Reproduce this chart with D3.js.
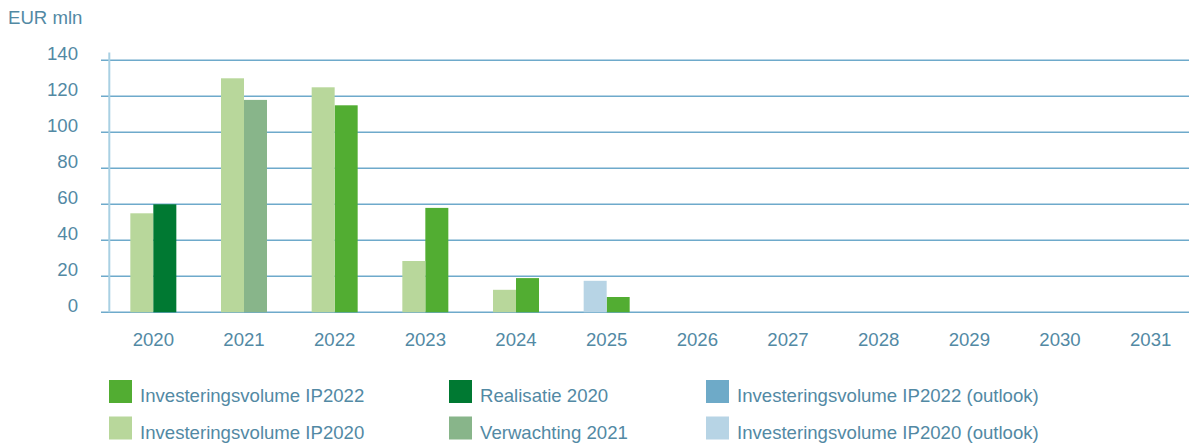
<!DOCTYPE html>
<html>
<head>
<meta charset="utf-8">
<script src="https://cdn.jsdelivr.net/npm/d3@7"></script>
<style>
  html, body { margin: 0; padding: 0; background: #fff; }
  svg { display: block; }
  text { font-family: "Liberation Sans", Arial, Helvetica, sans-serif; fill: #5289a4; }
</style>
</head>
<body>
<svg id="chart" width="1189" height="443"></svg>
<script>
// Categories
const years = ["2020","2021","2022","2023","2024","2025","2026","2027","2028","2029","2030","2031"];

// Series values (EUR mln); null = no bar for that year
const ip2020        = [55, 130, 125, 28.5, 12.5, null, null, null, null, null, null, null];
const ip2020Outlook = [null, null, null, null, null, 17.5, null, null, null, null, null, null];
const realisatie2020  = [60, null, null, null, null, null, null, null, null, null, null, null];
const verwachting2021 = [null, 118, null, null, null, null, null, null, null, null, null, null];
const ip2022        = [null, null, 115, 58, 19, 8.5, null, null, null, null, null, null];
const ip2022Outlook = [null, null, null, null, null, null, null, null, null, null, null, null];

// Y axis ticks
const yTicks = [0, 20, 40, 60, 80, 100, 120, 140];
const yUnit = "EUR mln";

// Series definitions: slot 0 = left bar of a year, slot 1 = right bar
const series = [
  { name: "Investeringsvolume IP2022",           values: ip2022,          color: "#52ad32", slot: 1 },
  { name: "Investeringsvolume IP2020",           values: ip2020,          color: "#b8d79b", slot: 0 },
  { name: "Realisatie 2020",                     values: realisatie2020,  color: "#007932", slot: 1 },
  { name: "Verwachting 2021",                    values: verwachting2021, color: "#88b58a", slot: 1 },
  { name: "Investeringsvolume IP2022 (outlook)", values: ip2022Outlook,   color: "#6eaac8", slot: 1 },
  { name: "Investeringsvolume IP2020 (outlook)", values: ip2020Outlook,   color: "#b7d4e5", slot: 0 }
];

const svg = d3.select("#chart");
const W = 1189;
const fontSize = 18.6;

const y = d3.scaleLinear().domain([0, 140]).range([312.3, 60.3]);
const x = d3.scaleBand().domain(years).range([108, 1196]).padding(0);
const barW = 23;
const slot = d3.scaleBand().domain([0, 1])
  .range([-barW, barW]).padding(0);

// Horizontal grid lines
svg.append("g").selectAll("line")
  .data(yTicks)
  .join("line")
  .attr("x1", 101).attr("x2", W)
  .attr("y1", d => y(d)).attr("y2", d => y(d))
  .attr("stroke", "#6eaacb")
  .attr("stroke-width", 1.6);

// Vertical axis line
svg.append("line")
  .attr("x1", 109.3).attr("x2", 109.3)
  .attr("y1", 52.5).attr("y2", y(0))
  .attr("stroke", "#a9d0e3")
  .attr("stroke-width", 2);

// Y tick labels
svg.append("g").selectAll("text")
  .data(yTicks)
  .join("text")
  .attr("x", 78).attr("y", d => y(d))
  .attr("text-anchor", "end")
  .attr("font-size", fontSize)
  .text(d => d);

// Unit label
svg.append("text")
  .attr("x", 8).attr("y", 24)
  .attr("font-size", fontSize)
  .text(yUnit);

// Bars
series.forEach(s => {
  const pts = years.map((yr, i) => ({ yr, v: s.values[i] })).filter(d => d.v != null);
  svg.append("g").selectAll("rect")
    .data(pts)
    .join("rect")
    .attr("x", d => x(d.yr) + x.bandwidth() / 2 + slot(s.slot))
    .attr("width", slot.bandwidth())
    .attr("y", d => y(d.v))
    .attr("height", d => y(0) - y(d.v))
    .attr("fill", s.color);
});

// X labels
svg.append("g").selectAll("text")
  .data(years)
  .join("text")
  .attr("x", d => x(d) + x.bandwidth() / 2)
  .attr("y", 345.5)
  .attr("text-anchor", "middle")
  .attr("font-size", fontSize)
  .text(d => d);

// Legend: 3 columns x 2 rows
const legCols = [109, 449, 706];
const legRows = [380, 416.5];
const legend = svg.append("g").selectAll("g")
  .data(series)
  .join("g")
  .attr("transform", (d, i) => `translate(${legCols[Math.floor(i / 2)]},${legRows[i % 2]})`);
legend.append("rect")
  .attr("width", 23).attr("height", 23)
  .attr("fill", d => d.color);
legend.append("text")
  .attr("x", 31).attr("y", 22)
  .attr("font-size", fontSize)
  .text(d => d.name);
</script>
</body>
</html>
